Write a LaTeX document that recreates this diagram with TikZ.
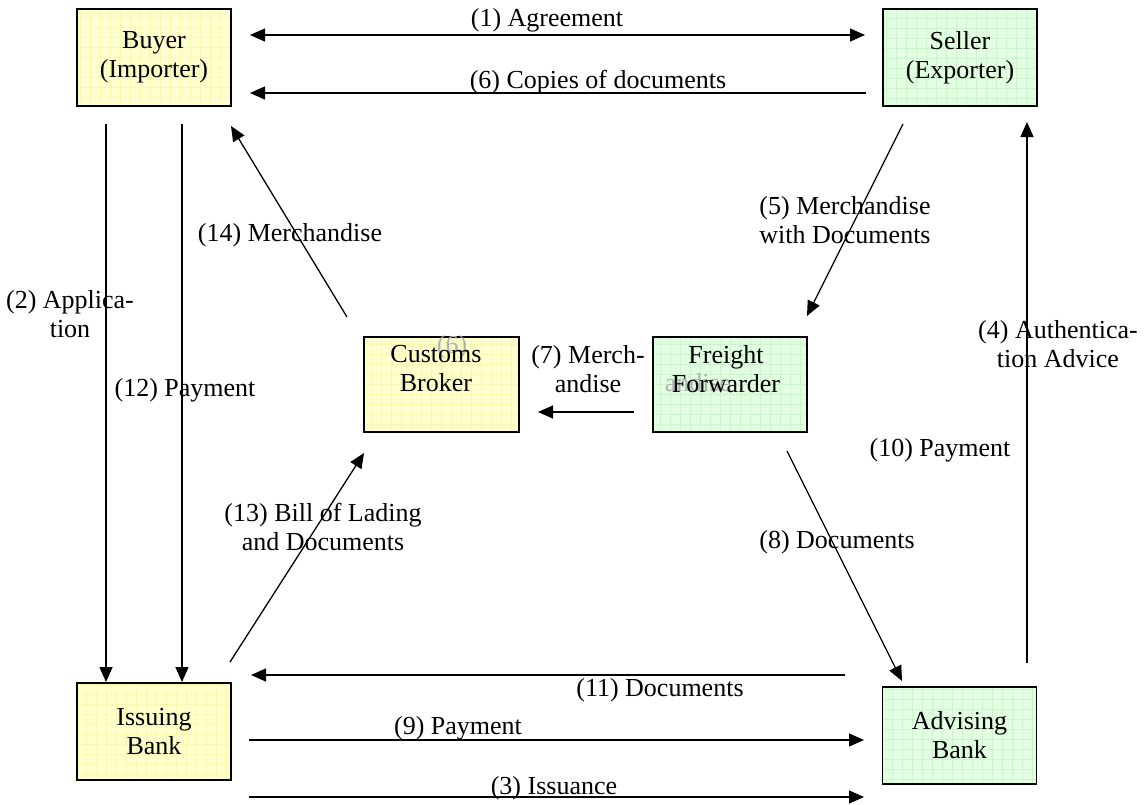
\documentclass[tikz,border=0pt]{standalone}
\usepackage{fontspec}
\setmainfont{Liberation Serif}
\usetikzlibrary{arrows.meta}

\definecolor{ybox}{RGB}{255,255,206}
\definecolor{ygrid}{RGB}{248,248,176}
\definecolor{gbox}{RGB}{226,255,226}
\definecolor{ggrid}{RGB}{206,244,206}

\tikzset{
  flowbox/.style={draw,line width=1.4pt,minimum width=154pt,minimum height=97pt,
    align=center,inner sep=0pt},
  yellowbox/.style={flowbox,fill=ybox,path picture={\draw[ygrid,line width=0.5pt,step=10pt]
    (path picture bounding box.south west) grid (path picture bounding box.north east);}},
  greenbox/.style={flowbox,fill=gbox,path picture={\draw[ggrid,line width=0.5pt,step=10pt]
    (path picture bounding box.south west) grid (path picture bounding box.north east);}},
  flow/.style={line width=1.3pt,-{Triangle[length=15pt,width=13pt]}},
  lbl/.style={inner sep=0pt,align=center},
  ghost/.style={inner sep=0pt,text=black!30},
}

\begin{document}
\begin{tikzpicture}[x=1pt,y=-1pt,font=\fontsize{26}{29}\selectfont]
\useasboundingbox (0,0) rectangle (1146,804);
% parties
\node[yellowbox] (buyer) at (154,57.5) {Buyer\\(Importer)};
\node[greenbox] (seller) at (960,57.5) {Seller\\(Exporter)};
\node[yellowbox,minimum width=155pt,minimum height=95pt] (broker) at (441.5,384.5) {};
\node[ghost] (brokerghost) at (452,347) {(6)};
\node[lbl] (brokertxt) at (436,369) {Customs\\Broker};
\node[greenbox,minimum width=154pt,minimum height=95pt] (freight) at (730,384.5) {};
\node[ghost] (freightghost) at (698,383) {andise};
\node[lbl] (freighttxt) at (726,369) {Freight\\Forwarder};
\node[yellowbox] (issuing) at (154,731.5) {Issuing\\Bank};
\node[greenbox] (advising) at (959.5,735.5) {Advising\\Bank};

% arrow ends
\coordinate (agreeL) at (250,35);   \coordinate (agreeR) at (865,35);
\coordinate (copyR) at (866,93);    \coordinate (copyL) at (250,93);
\coordinate (applT) at (106,124);   \coordinate (applB) at (106,682);
\coordinate (payT) at (182,124);    \coordinate (payB) at (182,682);
\coordinate (mercA) at (347,317);   \coordinate (mercB) at (231,126);
\coordinate (shipA) at (903,124);   \coordinate (shipB) at (807,316);
\coordinate (authB) at (1027,663);  \coordinate (authT) at (1027,122);
\coordinate (handR) at (634,412);   \coordinate (handL) at (538,412);
\coordinate (billA) at (230,662);   \coordinate (billB) at (364,453);
\coordinate (docA) at (787,451);    \coordinate (docB) at (902,681);
\coordinate (backR) at (845,675);   \coordinate (backL) at (251,675);
\coordinate (nineL) at (249,740);   \coordinate (nineR) at (864,740);
\coordinate (issL) at (249,797);    \coordinate (issR) at (864,797);

% connectors
\draw[flow,{Triangle[length=15pt,width=13pt]}-{Triangle[length=15pt,width=13pt]}] (agreeL) -- (agreeR);
\draw[flow] (copyR) -- (copyL);
\draw[flow] (applT) -- (applB);
\draw[flow] (payT) -- (payB);
\draw[flow] (mercA) -- (mercB);
\draw[flow] (shipA) -- (shipB);
\draw[flow] (authB) -- (authT);
\draw[flow] (handR) -- (handL);
\draw[flow] (billA) -- (billB);
\draw[flow] (docA) -- (docB);
\draw[flow] (backR) -- (backL);
\draw[flow] (nineL) -- (nineR);
\draw[flow] (issL) -- (issR);

% labels
\node[lbl] (l1) at (547,20) {(1) Agreement};
\node[lbl] (l6) at (598,82) {(6) Copies of documents};
\node[lbl] (l2) at (70,314) {(2) Applica-\\tion};
\node[lbl] (l12) at (185,390) {(12) Payment};
\node[lbl] (l14) at (290,235) {(14) Merchandise};
\node[lbl] (l5) at (845,220) {(5) Merchandise\\with Documents};
\node[lbl] (l4) at (1058,344) {(4) Authentica-\\tion Advice};
\node[lbl] (l7) at (588,369) {(7) Merch-\\andise};
\node[lbl] (l10) at (940,450) {(10) Payment};
\node[lbl] (l13) at (323,527) {(13) Bill of Lading\\and Documents};
\node[lbl] (l8) at (837,542) {(8) Documents};
\node[lbl] (l11) at (660,690) {(11) Documents};
\node[lbl] (l9) at (458,728) {(9) Payment};
\node[lbl] (l3) at (554,788) {(3) Issuance};
\end{tikzpicture}
\end{document}
